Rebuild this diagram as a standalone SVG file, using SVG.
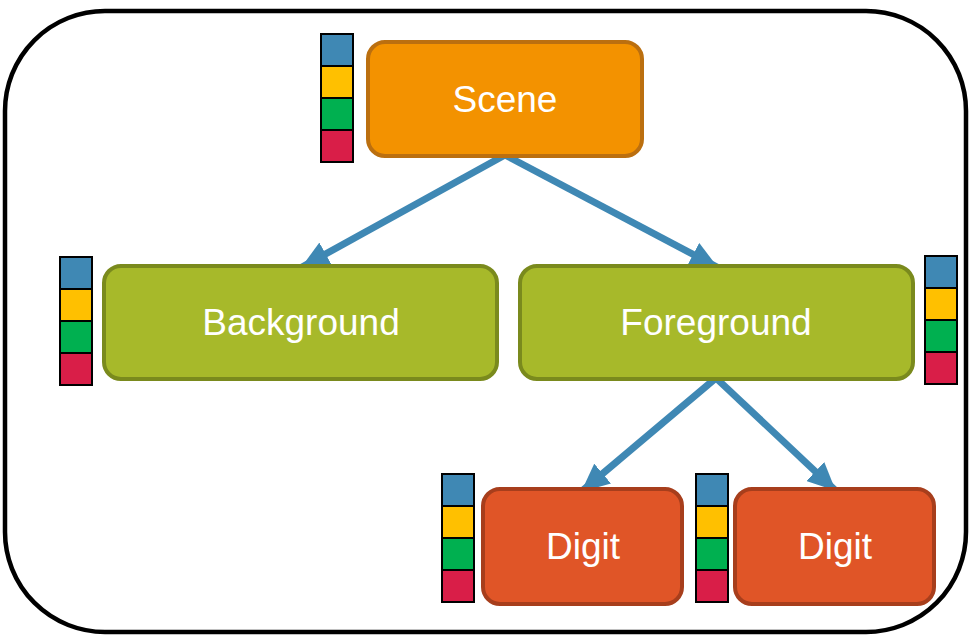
<svg xmlns="http://www.w3.org/2000/svg" width="969" height="635" viewBox="0 0 969 635">
<defs>
<style>
.lbl{font-family:"Liberation Sans",Arial,Helvetica,sans-serif;font-size:37px;fill:#ffffff;text-anchor:middle}
.scene{fill:#f39200;stroke:#bb6f0f;stroke-width:4}
.mid{fill:#a7b92a;stroke:#7a8a1d;stroke-width:4}
.digit{fill:#e05527;stroke:#a73e1c;stroke-width:4}
.sq{stroke:#000;stroke-width:2}
.b{fill:#3f88b4}.y{fill:#ffc000}.g{fill:#00b050}.r{fill:#d91e48}
.conn{fill:none;stroke:#3f88b4;stroke-width:7}
</style>
<marker id="ah" viewBox="0 0 28 26" refX="27" refY="13" markerWidth="28" markerHeight="26" markerUnits="userSpaceOnUse" orient="auto">
<polygon points="0,0 28,13 0,26" fill="#3f88b4"/>
</marker>
<g id="bar">
<rect class="sq b" x="0" y="0" width="32" height="32"/>
<rect class="sq y" x="0" y="32" width="32" height="32"/>
<rect class="sq g" x="0" y="64" width="32" height="32"/>
<rect class="sq r" x="0" y="96" width="32" height="32"/>
</g>
</defs>
<rect x="5" y="11" width="961" height="621" rx="100" ry="100" fill="#ffffff" stroke="#000" stroke-width="4.5"/>
<g id="connectors">
<path class="conn" d="M505,155 L302,267" marker-end="url(#ah)"/>
<path class="conn" d="M505,155 L717,267" marker-end="url(#ah)"/>
<path class="conn" d="M716,378 L582,491" marker-end="url(#ah)"/>
<path class="conn" d="M716,378 L835,490" marker-end="url(#ah)"/>
</g>
<g id="scene">
<rect class="scene" x="368" y="42" width="274" height="114" rx="17"/>
<use href="#bar" x="321" y="34"/>
<text class="lbl" x="505" y="112">Scene</text>
</g>
<g id="background">
<rect class="mid" x="104" y="266" width="393" height="113" rx="17"/>
<use href="#bar" x="60" y="257"/>
<text class="lbl" x="301" y="335">Background</text>
</g>
<g id="foreground">
<rect class="mid" x="520" y="266" width="393" height="113" rx="17"/>
<use href="#bar" x="925" y="256"/>
<text class="lbl" x="716" y="335">Foreground</text>
</g>
<g id="digit1">
<rect class="digit" x="483" y="489" width="199" height="115" rx="17"/>
<use href="#bar" x="442" y="474"/>
<text class="lbl" x="583" y="559">Digit</text>
</g>
<g id="digit2">
<rect class="digit" x="735" y="489" width="199" height="115" rx="17"/>
<use href="#bar" x="696" y="474"/>
<text class="lbl" x="835" y="559">Digit</text>
</g>
</svg>
